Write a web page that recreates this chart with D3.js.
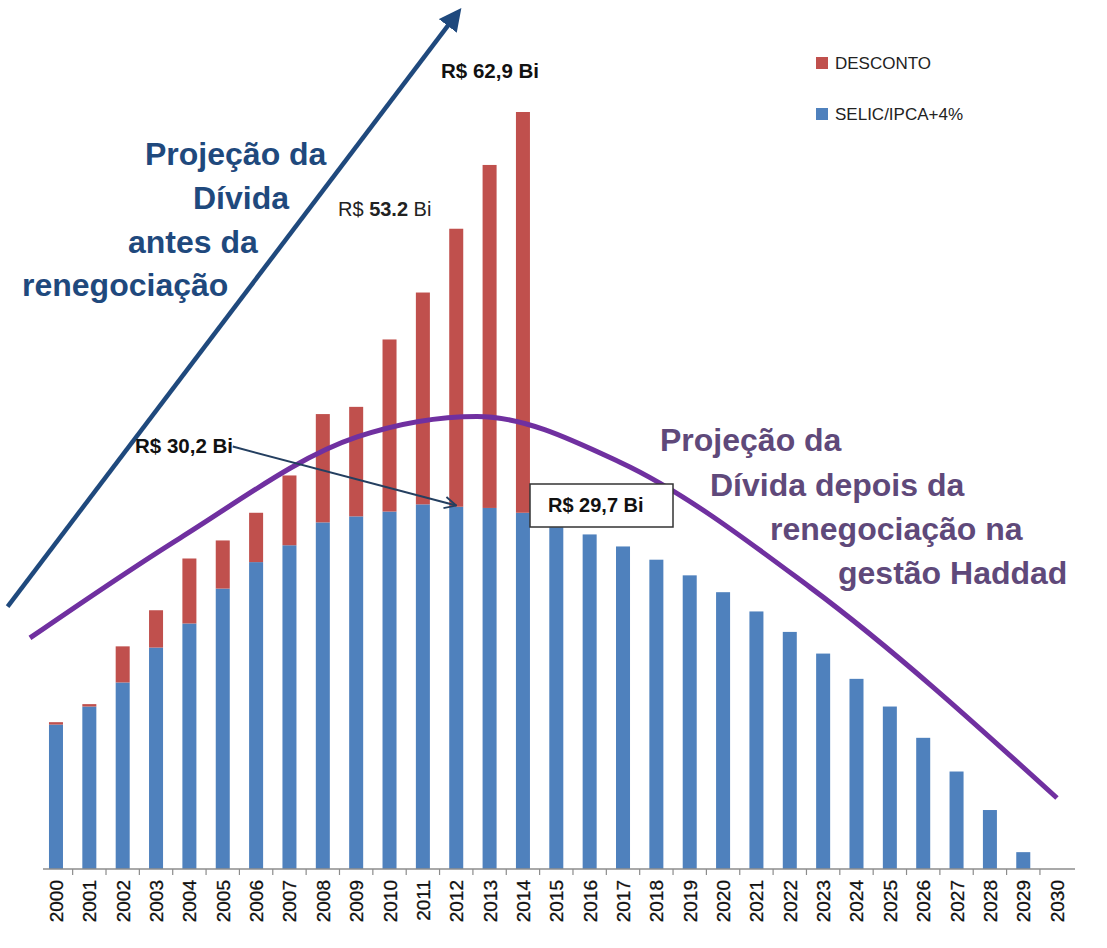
<!DOCTYPE html>
<html>
<head>
<meta charset="utf-8">
<script src="https://cdn.jsdelivr.net/npm/d3@7"></script>
<style>
  html, body { margin: 0; padding: 0; background: #fff; }
  svg { display: block; }
  text { font-family: "Liberation Sans", Arial, sans-serif; }
</style>
</head>
<body>
<svg id="chart" width="1107" height="948"></svg>
<script>
// ---------- data ----------
const years = d3.range(2000, 2031);
const yearLabels = years.map(String);
const selic = [12.0, 13.5, 15.5, 18.4, 20.4, 23.3, 25.5, 26.9, 28.8, 29.3, 29.7, 30.3, 30.1, 30.0, 29.6,
               28.4, 27.8, 26.8, 25.7, 24.4, 23.0, 21.4, 19.7, 17.9, 15.8, 13.5, 10.9, 8.1, 4.9, 1.4, 0];
const desconto = [0.2, 0.2, 3.0, 3.1, 5.4, 4.0, 4.1, 5.8, 9.0, 9.1, 14.3, 17.6, 23.1, 28.5, 33.3,
                  0, 0, 0, 0, 0, 0, 0, 0, 0, 0, 0, 0, 0, 0, 0, 0];
const seriesNames = ["DESCONTO", "SELIC/IPCA+4%"];
// annotation curve "after renegotiation" (year, value)
const curveAfterYears  = [1999.22, 2003.72, 2009.03, 2012.62, 2016.91, 2022.61, 2030.01];
const curveAfterValues = [19.2, 27.5, 35.9, 37.6, 33.8, 23.4, 5.9];
// annotation arrow "before renegotiation" (year, value)
const arrowBeforeYears  = [1998.55, 2011.95];
const arrowBeforeValues = [21.8, 70.8];
// pointer arrow from "R$ 30,2 Bi" to 2012 bar
const pointerYears  = [2005.3, 2012.0];
const pointerValues = [35.1, 30.2];

// ---------- scales ----------
const svg = d3.select("#chart");
const baseY = 869;
const x = d3.scaleBand().domain(years).range([39.3, 1073.3]).paddingInner(0.58).paddingOuter(0.29);
const y = d3.scaleLinear().domain([0, 70]).range([baseY, baseY - 70 * 12.035]);
const xc = d3.scaleLinear().domain([2000, 2030])
  .range([x(2000) + x.bandwidth() / 2, x(2030) + x.bandwidth() / 2]);

const blue = "#4f81bd", red = "#c0504d";

// ---------- bars ----------
const rows = years.map((yr, i) => ({ year: yr, selic: selic[i], desconto: desconto[i] }));
const stack = d3.stack().keys(["selic", "desconto"])(rows);
const colors = { selic: blue, desconto: red };

svg.append("g").selectAll("g").data(stack).join("g")
  .attr("fill", d => colors[d.key])
  .selectAll("rect").data(d => d).join("rect")
  .attr("x", d => x(d.data.year))
  .attr("width", x.bandwidth())
  .attr("y", d => y(d[1]))
  .attr("height", d => Math.max(0, y(d[0]) - y(d[1])));

// ---------- axis ----------
const axisG = svg.append("g").attr("transform", `translate(0,${baseY})`);
axisG.append("line").attr("x1", 43).attr("x2", 1075).attr("y1", 0).attr("y2", 0)
  .attr("stroke", "#8c8c8c").attr("stroke-width", 1.5);
axisG.selectAll("line.tick").data(years.slice(1)).join("line")
  .attr("class", "tick")
  .attr("x1", d => x(d) - x.step() * x.paddingInner() / 2)
  .attr("x2", d => x(d) - x.step() * x.paddingInner() / 2)
  .attr("y1", 0).attr("y2", 6)
  .attr("stroke", "#8c8c8c").attr("stroke-width", 1.2);
axisG.selectAll("text").data(years).join("text")
  .attr("transform", d => `translate(${x(d) + x.bandwidth() / 2 + 7},${11}) rotate(-90)`)
  .attr("text-anchor", "end")
  .attr("font-size", 19)
  .attr("fill", "#111")
  .attr("stroke", "#111").attr("stroke-width", 0.3)
  .text((d, i) => yearLabels[i]);

// ---------- purple curve ----------
const curvePts = curveAfterYears.map((yr, i) => [xc(yr), y(curveAfterValues[i])]);
svg.append("path")
  .attr("d", d3.line().curve(d3.curveMonotoneX)(curvePts))
  .attr("fill", "none").attr("stroke", "#7030a0").attr("stroke-width", 5);

// ---------- big blue arrow ----------
const defs = svg.append("defs");
defs.append("marker").attr("id", "bigHead").attr("viewBox", "0 0 10 10")
  .attr("refX", 5).attr("refY", 5).attr("markerWidth", 5).attr("markerHeight", 5)
  .attr("orient", "auto").attr("markerUnits", "strokeWidth")
  .append("path").attr("d", "M0,0 L10,5 L0,10 Z").attr("fill", "#1f497d");
defs.append("marker").attr("id", "openHead").attr("viewBox", "0 0 12 12")
  .attr("refX", 11).attr("refY", 6).attr("markerWidth", 7).attr("markerHeight", 7)
  .attr("orient", "auto").attr("markerUnits", "strokeWidth")
  .append("path").attr("d", "M1,1 L11,6 L1,11").attr("fill", "none")
  .attr("stroke", "#243f60").attr("stroke-width", 1.6);

svg.append("line")
  .attr("x1", xc(arrowBeforeYears[0])).attr("y1", y(arrowBeforeValues[0]))
  .attr("x2", xc(arrowBeforeYears[1])).attr("y2", y(arrowBeforeValues[1]))
  .attr("stroke", "#1f497d").attr("stroke-width", 4.5)
  .attr("marker-end", "url(#bigHead)");

// pointer arrow
svg.append("line")
  .attr("x1", xc(pointerYears[0])).attr("y1", y(pointerValues[0]))
  .attr("x2", xc(pointerYears[1])).attr("y2", y(pointerValues[1]))
  .attr("stroke", "#243f60").attr("stroke-width", 2)
  .attr("marker-end", "url(#openHead)");

// ---------- value labels ----------
svg.append("text").attr("x", 441).attr("y", 78).attr("font-size", 20.5).attr("font-weight", "bold")
  .attr("fill", "#111").text("R$ 62,9 Bi");
const t53 = svg.append("text").attr("x", 338).attr("y", 216).attr("font-size", 20).attr("fill", "#222");
t53.append("tspan").text("R$ ");
t53.append("tspan").attr("font-weight", "bold").text("53.2");
t53.append("tspan").text(" Bi");
svg.append("text").attr("x", 135).attr("y", 453).attr("font-size", 20.5).attr("font-weight", "bold")
  .attr("fill", "#111").text("R$ 30,2 Bi");
svg.append("rect").attr("x", 530).attr("y", 484).attr("width", 143).attr("height", 43)
  .attr("fill", "#fff").attr("stroke", "#333").attr("stroke-width", 1.5);
svg.append("text").attr("x", 548).attr("y", 512).attr("font-size", 20).attr("font-weight", "bold")
  .attr("fill", "#111").text("R$ 29,7 Bi");

// ---------- annotation texts ----------
const leftLines = [["Projeção da", 145, 165], ["Dívida", 193, 209], ["antes da", 128, 253], ["renegociação", 22, 296]];
svg.append("g").selectAll("text").data(leftLines).join("text")
  .attr("x", d => d[1]).attr("y", d => d[2])
  .attr("font-size", 32).attr("font-weight", "bold").attr("fill", "#1f497d")
  .text(d => d[0]);
const rightLines = [["Projeção da", 660, 451], ["Dívida depois da", 710, 496], ["renegociação na", 770, 540], ["gestão Haddad", 838, 584]];
svg.append("g").selectAll("text").data(rightLines).join("text")
  .attr("x", d => d[1]).attr("y", d => d[2])
  .attr("font-size", 32).attr("font-weight", "bold").attr("fill", "#5f497a")
  .text(d => d[0]);

// ---------- legend ----------
const legend = svg.append("g");
const legendColors = [red, blue];
const legendY = [57, 108];
seriesNames.forEach((name, i) => {
  legend.append("rect").attr("x", 816).attr("y", legendY[i]).attr("width", 12).attr("height", 12)
    .attr("fill", legendColors[i]);
  legend.append("text").attr("x", 835).attr("y", legendY[i] + 12).attr("font-size", 17)
    .attr("fill", "#222").text(name);
});
</script>
</body>
</html>
